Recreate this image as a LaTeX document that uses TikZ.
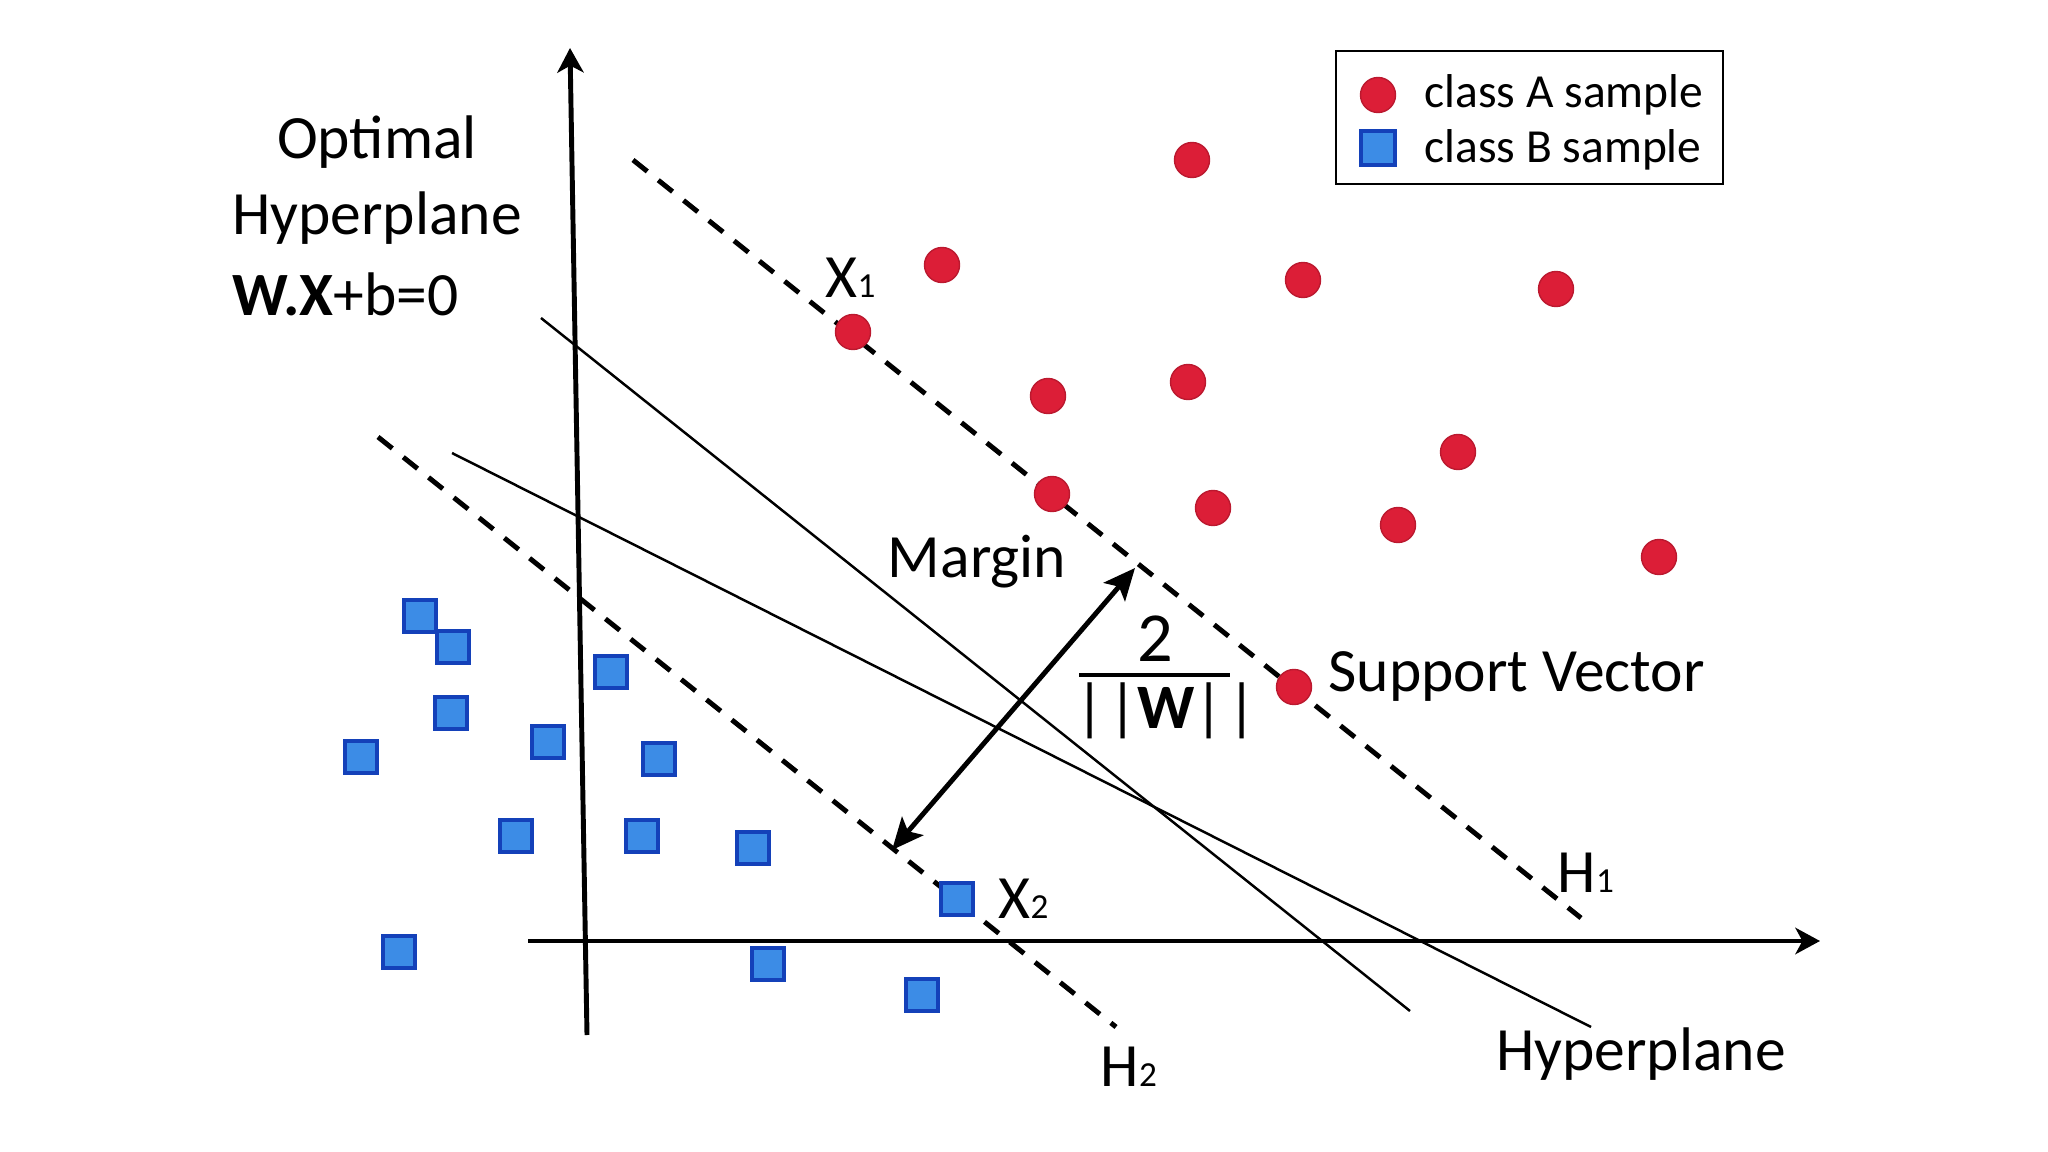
\documentclass[tikz,border=0pt]{standalone}
\usepackage{fontspec}
\setmainfont{Carlito}
\usetikzlibrary{arrows.meta}

\definecolor{dotred}{RGB}{220,30,55}
\definecolor{boxblue}{RGB}{60,140,230}
\definecolor{edgeblue}{RGB}{20,65,185}

\tikzset{
	classA/.style={circle,fill=dotred,draw=dotred!85!black,line width=0.4pt,minimum size=0.35cm,inner sep=0pt},
	classB/.style={rectangle,fill=boxblue,draw=edgeblue,line width=1pt,minimum size=0.32cm,inner sep=0pt},
	bigtext/.style={font=\fontsize{17.5}{21}\selectfont,inner sep=0pt},
	smalltext/.style={font=\fontsize{13.5}{16}\selectfont,inner sep=0pt},
	axisline/.style={line width=1.4pt,-{Stealth[length=7pt,width=7.5pt,inset=2pt]}},
	gutter/.style={line width=1.4pt,dash pattern=on 5.2pt off 4pt},
	plane/.style={line width=0.7pt}
}
\newcommand{\lowidx}[1]{{\fontsize{10}{10}\selectfont #1}}

\begin{document}
\begin{tikzpicture}[x=0.01cm,y=-0.01cm]
	\useasboundingbox (0,0) rectangle (2048,1152);
	% axes
	\coordinate (yb) at (587,1035);
	\coordinate (yt) at (570,48);
	\coordinate (xl) at (528,941);
	\coordinate (xr) at (1820,941);
	\draw[axisline] (yb) -- (yt);
	\draw[axisline] (xl) -- (xr);
	% hyperplanes
	\coordinate (p1s) at (541,318);
	\coordinate (p1e) at (1410,1011);
	\coordinate (p2s) at (452,453);
	\coordinate (p2e) at (1591,1027);
	\draw[plane] (p1s) -- (p1e);
	\draw[plane] (p2s) -- (p2e);
	% margins H1 and H2
	\coordinate (h1s) at (633,160);
	\coordinate (h1e) at (1581,918);
	\coordinate (h2s) at (378,437);
	\coordinate (h2e) at (1116,1027);
	\draw[gutter] (h1s) -- (h1e);
	\draw[gutter] (h2s) -- (h2e);
	% class A
	\foreach \x/\y [count=\i] in {1192/160,942/265,1303/280,1556/289,853/332,1048/396,1188/382,1458/452,1052/494,1213/508,1398/525,1659/557,1294/687}
		\node[classA] (a\i) at (\x,\y) {};
	% class B
	\foreach \x/\y [count=\i] in {420/616,453/647,611/672,451/713,361/757,548/742,659/759,516/836,642/836,753/848,957/899,399/952,768/964,922/995}
		\node[classB] (b\i) at (\x,\y) {};
	% margin arrow
	\coordinate (m2) at (892,850);
	\coordinate (m1) at (1135,568);
	\draw[line width=1.4pt,{Stealth[length=9pt,width=8pt,inset=2pt]}-{Stealth[length=9pt,width=8pt,inset=2pt]}] (m2) -- (m1);
	% labels
	\node[bigtext] (optimal) at (377,142) {Optimal};
	\node[bigtext] (hyper) at (377,218) {Hyperplane};
	\node[bigtext,anchor=west] (eqn) at (232,294) {\textbf{W.X}+b=0};
	\node[bigtext] (marg) at (977,562) {Margin};
	\node[bigtext,anchor=west] (sv) at (1328,676) {Support Vector};
	\node[bigtext] (hyper2) at (1641,1054) {Hyperplane};
	\node[bigtext,anchor=west] (x1) at (825,278) {X\lowidx{1}};
	\node[bigtext,anchor=west] (x2) at (998,899) {X\lowidx{2}};
	\node[bigtext,anchor=west] (hone) at (1557,873) {H\lowidx{1}};
	\node[bigtext,anchor=west] (htwo) at (1100,1067) {H\lowidx{2}};
	% fraction
	\node[font=\fontsize{20}{24}\selectfont,inner sep=0pt] (num) at (1155,639) {2};
	\node[font=\fontsize{18}{22}\selectfont,inner sep=0pt] (den) at (1166,711) {|\kern1pt|\textbf{W}|\kern1pt|};
	\draw[line width=1pt] (1079,675) -- (1230,675);
	% legend
	\draw[line width=0.8pt] (1336,51) rectangle (1723,184);
	\node[classA] (la) at (1378,95) {};
	\node[classB,minimum size=0.34cm] (lb) at (1378,148) {};
	\node[smalltext,anchor=west] (ta) at (1424,95) {class A sample};
	\node[smalltext,anchor=west] (tb) at (1424,150) {class B sample};
\end{tikzpicture}
\end{document}
